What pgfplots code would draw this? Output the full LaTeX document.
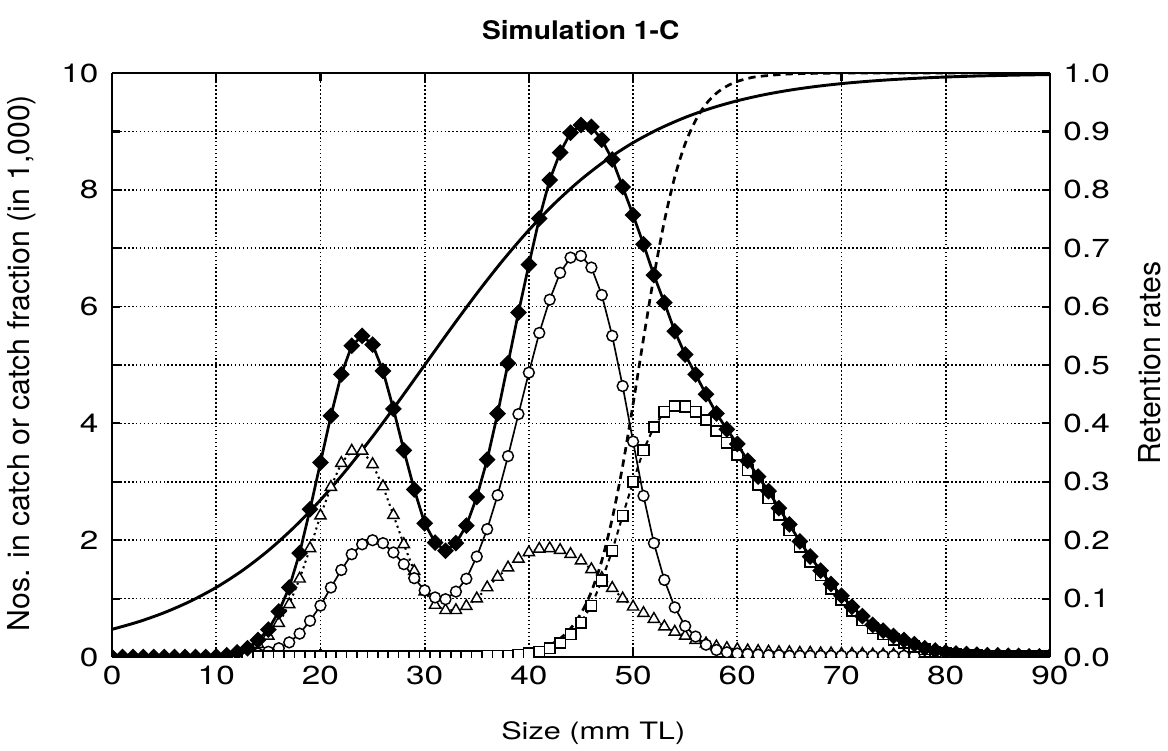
\documentclass[border=0pt]{standalone}
\usepackage{fontspec}
\setmainfont{TeX Gyre Heros}
\newfontfamily\wide{TeX Gyre Heros}[FakeStretch=1.28]
\newfontfamily\titlefont{TeX Gyre Heros}[FakeStretch=1.1]
\usepackage{pgfplots}
\usepackage{pgfplotstable}
\pgfplotsset{compat=1.18}

% total catch (filled diamonds)
\pgfplotstableread{
x y
0 0.00
1 0.00
2 0.00
3 0.00
4 0.00
5 0.00
6 0.00
7 0.00
8 0.00
9 0.00
10 0.01
11 0.03
12 0.08
13 0.15
14 0.29
15 0.47
16 0.78
17 1.19
18 1.78
19 2.53
20 3.33
21 4.13
22 4.84
23 5.33
24 5.50
25 5.35
26 4.90
27 4.25
28 3.54
29 2.87
30 2.29
31 1.96
32 1.82
33 1.95
34 2.25
35 2.74
36 3.38
37 4.17
38 5.03
39 5.90
40 6.72
41 7.51
42 8.17
43 8.64
44 8.98
45 9.11
46 9.08
47 8.86
48 8.52
49 8.05
50 7.57
51 7.07
52 6.54
53 6.07
54 5.58
55 5.18
56 4.84
57 4.50
58 4.17
59 3.90
60 3.65
61 3.36
62 3.09
63 2.84
64 2.55
65 2.27
66 1.98
67 1.72
68 1.48
69 1.25
70 1.05
71 0.86
72 0.70
73 0.55
74 0.45
75 0.36
76 0.29
77 0.22
78 0.15
79 0.11
80 0.08
81 0.06
82 0.05
83 0.04
84 0.03
85 0.03
86 0.02
87 0.02
88 0.01
89 0.01
90 0.01
}\total

% triangles
\pgfplotstableread{
x y
10 0.01
11 0.02
12 0.05
13 0.12
14 0.22
15 0.36
16 0.58
17 0.90
18 1.34
19 1.86
20 2.42
21 2.91
22 3.32
23 3.53
24 3.53
25 3.30
26 2.92
27 2.43
28 1.93
29 1.47
30 1.12
31 0.89
32 0.80
33 0.80
34 0.87
35 1.00
36 1.19
37 1.37
38 1.53
39 1.68
40 1.79
41 1.85
42 1.86
43 1.83
44 1.76
45 1.65
46 1.50
47 1.35
48 1.18
49 1.00
50 0.86
51 0.75
52 0.65
53 0.52
54 0.43
55 0.36
56 0.29
57 0.23
58 0.18
59 0.15
60 0.13
61 0.11
62 0.10
63 0.09
64 0.08
65 0.08
66 0.07
67 0.07
68 0.06
69 0.06
70 0.05
71 0.05
72 0.05
73 0.04
74 0.04
75 0.04
76 0.03
}\triang

% circles
\pgfplotstableread{
x y
13 0.02
14 0.06
15 0.09
16 0.15
17 0.25
18 0.40
19 0.62
20 0.88
21 1.19
22 1.49
23 1.76
24 1.93
25 2.00
26 1.95
27 1.79
28 1.59
29 1.35
30 1.14
31 1.02
32 0.99
33 1.12
34 1.34
35 1.72
36 2.19
37 2.77
38 3.44
39 4.16
40 4.87
41 5.55
42 6.12
43 6.58
44 6.84
45 6.87
46 6.67
47 6.20
48 5.50
49 4.64
50 3.69
51 2.76
52 1.95
53 1.32
54 0.85
55 0.53
56 0.35
57 0.21
58 0.12
59 0.08
60 0.06
61 0.05
62 0.04
63 0.03
64 0.03
65 0.02
66 0.02
67 0.02
68 0.02
69 0.02
70 0.02
71 0.02
72 0.02
73 0.02
74 0.02
75 0.02
76 0.02
77 0.02
}\circ

% squares
\pgfplotstableread{
x y
12 0.01
13 0.01
14 0.01
15 0.01
16 0.01
17 0.01
18 0.01
19 0.01
20 0.01
21 0.01
22 0.01
23 0.01
24 0.01
25 0.01
26 0.01
27 0.01
28 0.01
29 0.01
30 0.01
31 0.01
32 0.01
33 0.01
34 0.01
35 0.01
36 0.02
37 0.02
38 0.02
39 0.04
40 0.06
41 0.09
42 0.15
43 0.24
44 0.39
45 0.59
46 0.88
47 1.31
48 1.82
49 2.42
50 3.00
51 3.54
52 3.94
53 4.20
54 4.30
55 4.29
56 4.20
57 4.06
58 3.87
59 3.67
60 3.46
61 3.20
62 2.95
63 2.72
64 2.43
65 2.17
66 1.89
67 1.63
68 1.40
69 1.17
70 0.98
71 0.79
72 0.63
73 0.49
74 0.39
75 0.30
76 0.24
77 0.18
78 0.13
79 0.09
80 0.07
81 0.05
82 0.04
83 0.03
84 0.02
85 0.02
86 0.01
87 0.01
88 0.01
89 0.01
90 0.01
}\squares

% retention rates (right axis)
\pgfplotstableread{
x y
0 0.0474
2.5 0.0601
5 0.0759
7.5 0.0954
10 0.1192
12.5 0.1480
15 0.1824
17.5 0.2227
20 0.2689
22.5 0.3208
25 0.3775
27.5 0.4378
30 0.5000
32.5 0.5622
35 0.6225
37.5 0.6792
40 0.7311
42.5 0.7773
45 0.8176
47.5 0.8520
50 0.8808
52.5 0.9046
55 0.9241
57.5 0.9399
60 0.9526
62.5 0.9627
65 0.9707
67.5 0.9770
70 0.9820
72.5 0.9859
75 0.9890
77.5 0.9914
80 0.9933
82.5 0.9948
85 0.9959
87.5 0.9968
90 0.9975
}\retA

\pgfplotstableread{
x y
0 0.0
10 0.0
20 0.0
30 0.0001
36 0.0014
38 0.0034
39 0.0054
40 0.0084
41 0.0131
42 0.0204
43 0.0316
44 0.0488
45 0.0745
46 0.112
47 0.165
48 0.237
49 0.327
50 0.433
51 0.545
52 0.652
53 0.746
54 0.822
55 0.879
56 0.919
57 0.947
58 0.9655
59 0.9777
60 0.9857
61 0.9908
62 0.9941
65 0.9985
70 1.0
80 1.0
90 1.0
}\retB

\begin{document}
\begin{tikzpicture}
\path[use as bounding box] (-53.8pt,-45.1pt) rectangle (506.9pt,315.4pt);

\pgfplotsset{
  base/.style={
    scale only axis, width=450.2pt, height=280.3pt,
    at={(0pt,0pt)}, anchor=south west,
    xmin=0, xmax=90,
    tick align=inside, major tick length=4pt,
    axis line style={line width=1pt},
    every tick/.style={black, line width=1pt},
    clip marker paths=true,
    ticklabel style={font=\wide\fontsize{12.5}{14}\selectfont},
  }
}

\begin{axis}[
  base,
  ymin=0, ymax=1,
  axis y line*=right,
  xtick={0,10,...,90}, xticklabels={},
  ytick={0,0.1,0.2,0.3,0.4,0.5,0.6,0.7,0.8,0.9,1.0},
  yticklabels={0.0,0.1,0.2,0.3,0.4,0.5,0.6,0.7,0.8,0.9,1.0},
  yticklabel style={xshift=3pt},
  grid=major,
  major grid style={black, line width=0.8pt, dash pattern=on 0.8pt off 1.1pt},
]
\addplot[black, line width=1.4pt, smooth] table {\retA};
\addplot[black, line width=1.3pt, dash pattern=on 3.5pt off 2.5pt, smooth] table {\retB};
\end{axis}

\begin{axis}[
  base,
  ymin=0, ymax=10,
  axis y line*=left, axis x line*=bottom,
  xtick={0,10,...,90},
  xticklabels={0,10,20,30,40,50,60,70,80,90},
  ytick={0,1,...,10},
  yticklabels={0,,2,,4,,6,,8,,10},
  yticklabel style={xshift=-3pt},
  xticklabel style={yshift=-1pt},
]
\addplot[black, line width=1pt, dash pattern=on 1pt off 1.8pt,
  mark=triangle*, mark size=3.1pt,
  mark options={solid, fill=white, draw=black, line width=0.7pt}] table {\triang};
\addplot[black, line width=0.8pt,
  mark=*, mark size=2.6pt,
  mark options={solid, fill=white, draw=black, line width=0.7pt}] table {\circ};
\addplot[black, line width=1pt, dash pattern=on 2.5pt off 2pt,
  mark=square*, mark size=2.5pt,
  mark options={solid, fill=white, draw=black, line width=0.8pt}] table {\squares};
\addplot[black, line width=1.3pt,
  mark=square*, mark size=2.2pt,
  mark options={solid, fill=black, rotate=45}] table {\total};
\end{axis}

\node[font=\titlefont\bfseries\fontsize{12.3}{14}\selectfont] at (225pt,301pt) {Simulation 1-C};
\node[font=\wide\fontsize{11.5}{13}\selectfont] at (231pt,-36.5pt) {Size (mm TL)};
\node[rotate=90, font=\fontsize{14.5}{16}\selectfont] at (-43.2pt,141pt) {Nos. in catch or catch fraction (in 1,000)};
\node[rotate=90, font=\fontsize{14.5}{16}\selectfont] at (498.2pt,141pt) {Retention rates};
\end{tikzpicture}
\end{document}
